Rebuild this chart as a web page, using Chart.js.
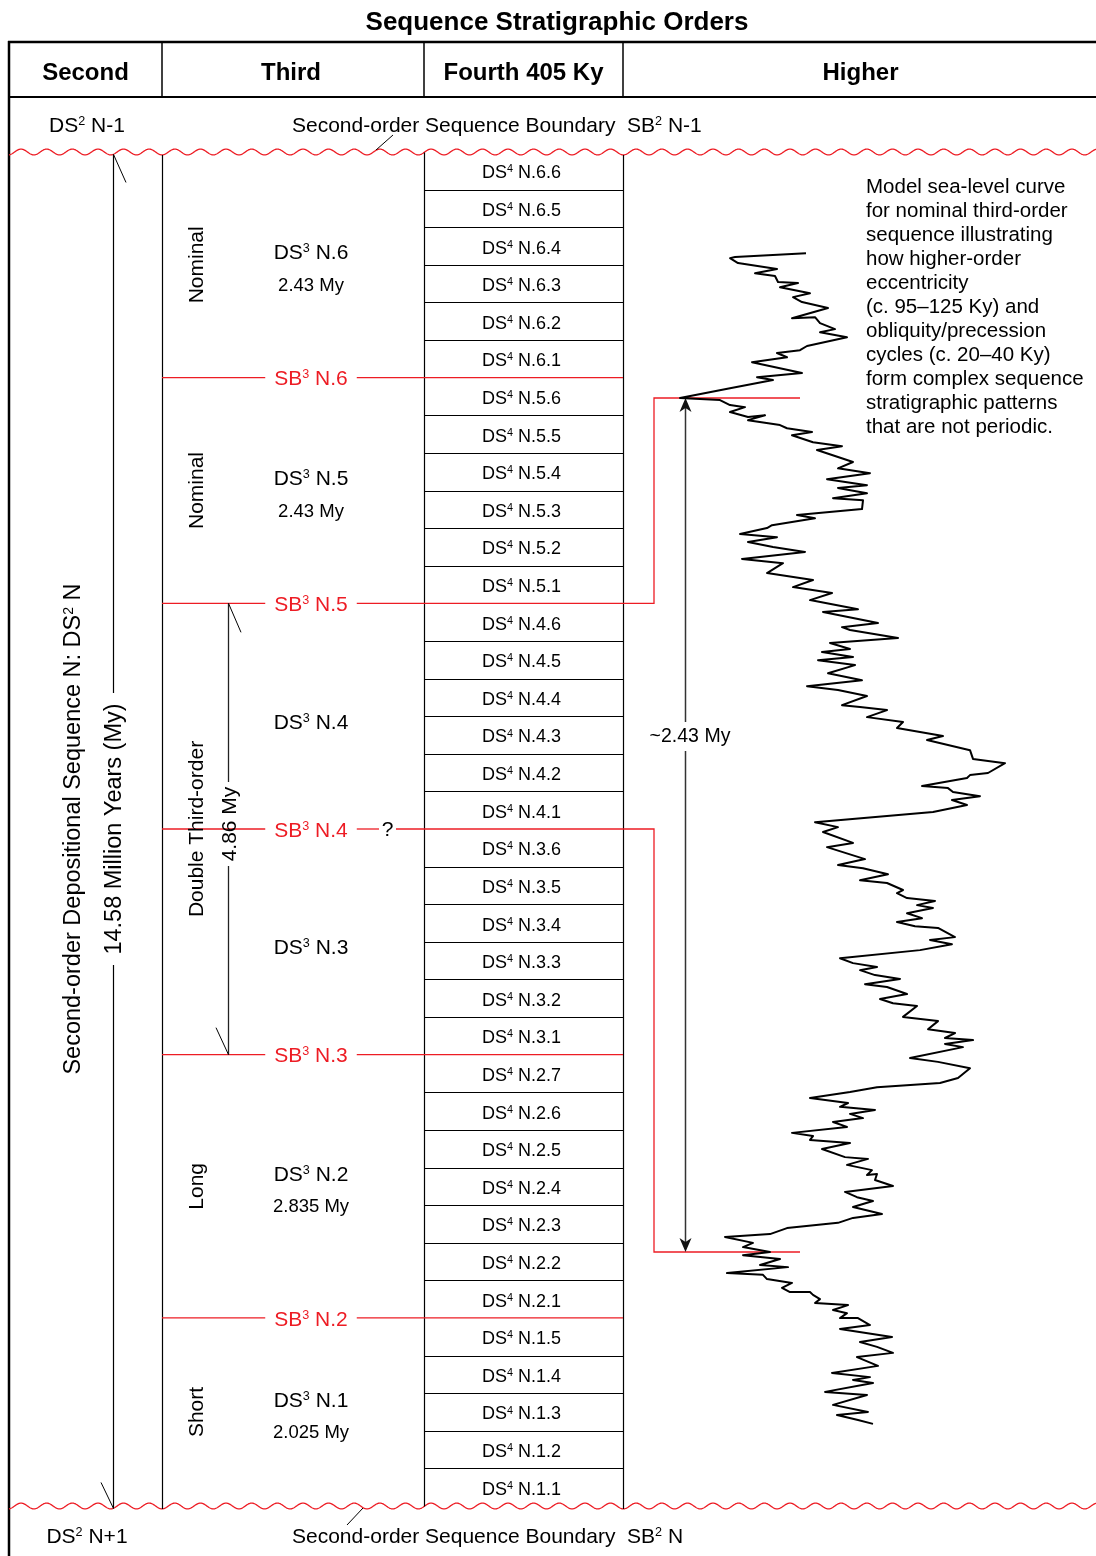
<!DOCTYPE html>
<html><head><meta charset="utf-8">
<script src="https://cdn.jsdelivr.net/npm/chart.js@4.4.1/dist/chart.umd.min.js"></script>
<style>html,body{margin:0;padding:0;background:#fff}#wrap{width:1096px;height:1556px;position:relative}</style>
</head><body><div id="wrap"><canvas id="c"></canvas></div>
<script>
// ---------------- DATA ----------------
const thirdOrderNames = ['N.1', 'N.2', 'N.3', 'N.4', 'N.5', 'N.6'];
const thirdOrderDurationsMy = [2.025, 2.835, 2.43, 2.43, 2.43, 2.43];
const durationLabels = ['2.025 My', '2.835 My', '', '', '2.43 My', '2.43 My'];
const fourthOrderCounts = [5, 7, 6, 6, 6, 6];
const typeLabels = ['Short', 'Long', 'Double Third-order', 'Nominal', 'Nominal'];
const typeSpans = [1, 1, 2, 1, 1];
const secondOrderDurationMy = 14.58;
const doubleSequenceLabel = '4.86 My';
const uncertainBoundary = 'N.4';
const linkedSequenceIndex = 3;            // DS3 N.4 linked to the model curve
const modelSequenceKy = 2430;             // ~2.43 My model sequence
const noteLines = ['Model sea-level curve', 'for nominal third-order', 'sequence illustrating',
  'how higher-order', 'eccentricity', '(c. 95\u2013125 Ky) and', 'obliquity/precession',
  'cycles (c. 20\u201340 Ky)', 'form complex sequence', 'stratigraphic patterns', 'that are not periodic.'];

// model curve: time (ky above lower sequence boundary) and relative sea level (arbitrary units)
const curveTimeKy = [2842,2831,2828,2814,2797,2785,2777,2760,2757,2745,2728,2717,2703,2686,2657,2660,2643,2626,2617,2603,2578,2566,2558,2546,2532,2501,2489,2481,2458,2430,
2424,2410,2404,2390,2376,2381,2367,2353,2344,2333,2324,2304,2293,2282,2248,2230,2216,2199,2182,2174,2159,2145,2139,2114,2097,2088,2068,2060,2043,2034,2020,2006,1992,1972,1960,1932,1912,1892,1875,1855,1829,1821,1790,1778,1770,1747,1733,1716,1707,1693,1684,1670,1647,1627,1610,1599,1582,1556,1551,1542,1522,1508,1491,1468,1457,1428,1403,1391,1363,1357,1349,1326,1320,1309,1297,1286,1272,1252,1223,
1209,1195,1164,1152,1118,1101,1092,1075,1058,1050,1030,1021,1007,999,987,979,964,950,939,927,922,896,888,876,859,836,822,811,802,788,777,762,754,734,720,708,700,669,657,634,623,609,603,592,583,552,541,523,495,481,469,455,438,424,413,404,393,381,370,356,339,330,319,310,293,270,265,248,233,219,222,205,188,171,156,145,128,108,97,83,68,51,43,26,14,0,-9,-20,-37,-43,-60,-65,-77,-88,-102,-114,-114,-122,-134,-145,-151,-165,-174,-188,-188,-208,-219,-242,-256,-270,-287,-299,-324,-344,-356,-364,-373,-398,-407,-435,-455,-464,-478,-489];
const curveSeaLevel = [32.5,14.75,13.5,15.5,25.25,19.75,24.75,25.5,30.5,26,33.5,29.25,31.5,38,29,34.75,36,39.75,36,42.75,32.75,31,25.25,27.75,19,31.5,20.25,24.25,13.5,1,
11,13.5,17.25,13.5,18,22.25,18,26,27.75,34,29,34.25,41.5,35.25,44.25,40.5,48.5,37.75,47.75,40.5,47.75,39.25,46.75,46.5,30.25,34.75,24,22.75,16,25.25,18,24.25,32.25,16.5,26.75,22.75,34.25,29.25,39,33.5,45.5,36.75,50.5,41.5,43.5,55.5,38.5,43.5,36.5,44.25,35.5,44.75,38,46.5,32.75,40.5,47.75,41.5,46,52.75,47.75,56.75,55.25,66.75,62.75,73.5,74.25,82.25,78,73.5,72.75,61.5,68,69.25,76,69,72.75,64.25,34.75,
40.5,36.75,44.25,37.75,47.25,40.5,46.75,53,46,52.75,56.75,55.25,57.75,64.75,60.25,64.25,57.75,61.5,55.25,59.75,65.5,69.75,63.5,69,61,41,44.25,50.25,46,49.75,56,47.25,52.75,57.75,51,54.25,60.25,56.75,65.5,63,69.75,67.25,74.25,67.25,71.75,58.5,65.5,73.5,70.5,66,50.25,43.5,33.5,43,41,49.75,43.5,46.75,39.25,42.75,29,34.25,33.5,43.5,36.5,42.25,48,42.75,49,47.75,50.25,49.75,54.25,42.25,45.25,49.25,44.25,51.5,44.25,40.5,27.75,23.5,12.25,19.25,16.75,23.5,16.75,26,21,28,12.75,21.75,22.75,29,26.5,28.5,33.5,34.25,36,34.75,43,39.25,42.75,41,45.5,48.5,41,54,46,50.25,54.25,45.25,50.5,39,48.5,44.25,49.25,37.25,47.75,39.25,48,40.25,45.5,49.25];

// ---------------- DRAWING ----------------
const FONT = '"Liberation Sans", Arial, Helvetica, sans-serif';
const RED = '#ed1c24';
function fnt(size, bold) { return (bold ? 'bold ' : '') + size + 'px ' + FONT; }
function parts(str) {
  const out = []; let buf = '';
  for (let i = 0; i < str.length; i++) {
    if (str[i] === '^') { if (buf) out.push({ t: buf }); buf = ''; out.push({ t: str[i + 1], sup: true }); i++; }
    else buf += str[i];
  }
  if (buf) out.push({ t: buf });
  return out;
}
function drawRich(ctx, str, x, y, size, align, color, bold) {
  const ps = parts(str);
  let w = 0;
  for (const p of ps) { ctx.font = fnt(p.sup ? size * 0.6 : size, bold); p.w = ctx.measureText(p.t).width; w += p.w; }
  let cx = align === 'center' ? x - w / 2 : (align === 'right' ? x - w : x);
  const left = cx;
  const base = y + size * 0.36;
  ctx.fillStyle = color || '#000'; ctx.textAlign = 'left'; ctx.textBaseline = 'alphabetic';
  for (const p of ps) {
    ctx.font = fnt(p.sup ? size * 0.6 : size, bold);
    ctx.fillText(p.t, cx, p.sup ? base - size * 0.33 : base);
    cx += p.w;
  }
  return { left: left, right: cx };
}
function line(ctx, x1, y1, x2, y2, color, w) {
  ctx.beginPath(); ctx.moveTo(x1, y1); ctx.lineTo(x2, y2);
  ctx.strokeStyle = color; ctx.lineWidth = w; ctx.stroke();
}
function poly(ctx, pts, color, w) {
  ctx.beginPath(); ctx.moveTo(pts[0][0], pts[0][1]);
  for (let i = 1; i < pts.length; i++) ctx.lineTo(pts[i][0], pts[i][1]);
  ctx.strokeStyle = color; ctx.lineWidth = w; ctx.lineJoin = 'miter'; ctx.stroke();
}
function waveY(x, yc) { return yc + 2.9 * Math.cos(2 * Math.PI * (x - 162) / 25.63); }
function drawWave(ctx, yc, x0, x1) {
  ctx.beginPath();
  for (let x = x0; x <= x1; x += 0.5) { const y = waveY(x, yc); if (x === x0) ctx.moveTo(x, y); else ctx.lineTo(x, y); }
  ctx.strokeStyle = RED; ctx.lineWidth = 1.3; ctx.stroke();
}
function rotText(ctx, str, x, y, size, color) {
  ctx.save(); ctx.translate(x, y); ctx.rotate(-Math.PI / 2);
  drawRich(ctx, str, 0, 0, size, 'center', color);
  ctx.restore();
}
function arrowHead(ctx, x, y, dir, color) {
  ctx.beginPath(); ctx.moveTo(x, y); ctx.lineTo(x - 6, y + dir * 14); ctx.lineTo(x, y + dir * 10); ctx.lineTo(x + 6, y + dir * 14); ctx.closePath();
  ctx.fillStyle = color; ctx.fill();
}

const stratPlugin = {
  id: 'strat',
  beforeDraw(chart) { const c = chart.ctx; c.save(); c.fillStyle = '#fff'; c.fillRect(0, 0, chart.width, chart.height); c.restore(); },
  beforeDatasetsDraw(chart) {
    const ctx = chart.ctx; ctx.save();
    const yS = chart.scales.y, y2S = chart.scales.y2;
    const P = v => yS.getPixelForValue(v);
    const Q = v => y2S.getPixelForValue(v);
    const X0 = 9, X1 = 162, X2 = 424, X3 = 623, XR = chart.width;
    const yTop = P(secondOrderDurationMy), yBot = P(0);
    const cum = [0]; thirdOrderDurationsMy.forEach(d => cum.push(cum[cum.length - 1] + d));

    // title & header
    ctx.fillStyle = '#000'; ctx.textAlign = 'center'; ctx.textBaseline = 'middle';
    ctx.font = fnt(26, true); ctx.fillText('Sequence Stratigraphic Orders', 557, 23);
    line(ctx, X0 - 1, 42, XR, 42, '#000', 2.5);
    line(ctx, X0, 97, XR, 97, '#000', 2);
    line(ctx, X0, 41, X0, chart.height, '#000', 2.5);
    [X1, X2, X3].forEach(x => line(ctx, x, 42, x, 97, '#000', 1.5));
    ctx.font = fnt(24, true); ctx.fillStyle = '#000';
    ctx.fillText('Second', (X0 + X1) / 2, 73.5);
    ctx.fillText('Third', (X1 + X2) / 2 - 2, 73.5);
    ctx.fillText('Fourth 405 Ky', (X2 + X3) / 2, 73.5);
    ctx.fillText('Higher', (X3 + XR) / 2 + 1, 73.5);

    // second-order boundaries
    drawRich(ctx, 'DS^2 N-1', 87, 124, 21, 'center');
    drawRich(ctx, 'Second-order Sequence Boundary  SB^2 N-1', 292, 124, 21, 'left');
    drawRich(ctx, 'DS^2 N+1', 87, 1535, 21, 'center');
    drawRich(ctx, 'Second-order Sequence Boundary  SB^2 N', 292, 1535, 21, 'left');
    drawWave(ctx, yTop, X0, XR);
    drawWave(ctx, yBot, X0, XR);
    line(ctx, 376, yTop - 2, 393, yTop - 17, '#000', 1);
    line(ctx, 363, yBot + 2, 347, yBot + 19, '#000', 1);

    // column verticals
    [X1, X2, X3].forEach(x => line(ctx, x + 0.5, waveY(x, yTop), x + 0.5, waveY(x, yBot), '#000', 1.2));

    // fourth-order rows
    for (let i = 0; i < thirdOrderDurationsMy.length; i++) {
      const n = fourthOrderCounts[i], d = thirdOrderDurationsMy[i] / n;
      for (let j = 0; j < n; j++) {
        const a = cum[i] + j * d, b = a + d;
        if (j > 0) { const yy = Math.round(P(a)) + 0.5; line(ctx, X2, yy, X3, yy, '#000', 1); }
        drawRich(ctx, 'DS^4 ' + thirdOrderNames[i] + '.' + (j + 1), (X2 + X3) / 2 - 2, (P(a) + P(b)) / 2 + 1, 18, 'center');
      }
    }

    // red connectors to the model curve
    const yUpSB = P(cum[linkedSequenceIndex + 1]), yLoSB = P(cum[linkedSequenceIndex]);
    poly(ctx, [[X3, yUpSB], [654, yUpSB], [654, Q(modelSequenceKy)], [800, Q(modelSequenceKy)]], RED, 1.3);
    poly(ctx, [[X3, yLoSB], [654, yLoSB], [654, Q(0)], [800, Q(0)]], RED, 1.3);

    // third-order boundaries
    for (let k = 1; k < thirdOrderNames.length; k++) {
      const yy = P(cum[k]);
      const name = thirdOrderNames[k];
      const r = drawRich(ctx, 'SB^3 ' + name, 311, yy, 21, 'center', RED);
      line(ctx, X1, yy, r.left - 9, yy, RED, 1.3);
      if (name === uncertainBoundary) {
        line(ctx, r.right + 9, yy, 379, yy, RED, 1.3);
        ctx.font = fnt(21); ctx.fillStyle = '#000'; ctx.textAlign = 'center'; ctx.textBaseline = 'middle';
        ctx.fillText('?', 387.5, yy + 1);
        line(ctx, 396, yy, X3, yy, RED, 1.3);
      } else {
        line(ctx, r.right + 9, yy, X3, yy, RED, 1.3);
      }
    }

    // third-order labels
    for (let i = 0; i < thirdOrderNames.length; i++) {
      const c = (P(cum[i]) + P(cum[i + 1])) / 2;
      if (durationLabels[i]) {
        drawRich(ctx, 'DS^3 ' + thirdOrderNames[i], 311, c - 13, 21, 'center');
        ctx.font = fnt(18.5); ctx.fillStyle = '#000'; ctx.textAlign = 'center'; ctx.textBaseline = 'middle';
        ctx.fillText(durationLabels[i], 311, c + 21);
      } else {
        drawRich(ctx, 'DS^3 ' + thirdOrderNames[i], 311, c + 5, 21, 'center');
      }
    }
    let s = 0;
    for (let g = 0; g < typeLabels.length; g++) {
      const c = (P(cum[s]) + P(cum[s + typeSpans[g]])) / 2;
      rotText(ctx, typeLabels[g], 195, c, 21);
      s += typeSpans[g];
    }

    // double third-order span
    const yd1 = P(cum[4]), yd0 = P(cum[2]), ydc = (yd1 + yd0) / 2 - 5;
    line(ctx, 228.5, yd1, 228.5, ydc - 42, '#222', 1.3);
    line(ctx, 228.5, ydc + 42, 228.5, yd0, '#222', 1.3);
    line(ctx, 228.5, yd1, 241, yd1 + 29, '#000', 1);
    line(ctx, 228.5, yd0, 216, yd0 - 27, '#000', 1);
    rotText(ctx, doubleSequenceLabel, 228, ydc, 21);

    // second-order span
    const ys1 = waveY(113, yTop), ys0 = waveY(113, yBot), ysc = (yTop + yBot) / 2;
    line(ctx, 113.5, ys1, 113.5, ysc - 136, '#000', 1.2);
    line(ctx, 113.5, ysc + 136, 113.5, ys0, '#000', 1.2);
    line(ctx, 113.5, ys1, 126, ys1 + 28, '#000', 1);
    line(ctx, 113.5, ys0, 101, ys0 - 26, '#000', 1);
    rotText(ctx, secondOrderDurationMy.toFixed(2) + ' Million Years (My)', 113, ysc, 23.5);
    rotText(ctx, 'Second-order Depositional Sequence N: DS^2 N', 72, ysc, 23.5);

    // model sequence arrow
    const ya = Q(modelSequenceKy), yb = Q(0), yl = 736;
    line(ctx, 685.5, ya + 8, 685.5, yl - 14, '#333', 1.5);
    line(ctx, 685.5, yl + 15, 685.5, yb - 8, '#333', 1.5);
    arrowHead(ctx, 685.5, ya, 1, '#111');
    arrowHead(ctx, 685.5, yb, -1, '#111');
    ctx.font = fnt(19.5); ctx.fillStyle = '#000'; ctx.textAlign = 'center'; ctx.textBaseline = 'middle';
    ctx.fillText('~' + (modelSequenceKy / 1000).toFixed(2) + ' My', 690, yl + 1);

    // note
    ctx.font = fnt(20.5); ctx.textAlign = 'left';
    noteLines.forEach((t, i) => ctx.fillText(t, 866, 187 + i * 24));
    ctx.restore();
  }
};

new Chart(document.getElementById('c'), {
  type: 'scatter',
  data: {
    datasets: [{
      data: curveTimeKy.map((t, i) => ({ x: curveSeaLevel[i], y: t })),
      showLine: true, borderColor: '#000', borderWidth: 2, pointRadius: 0, tension: 0,
      borderJoinStyle: 'round', xAxisID: 'x', yAxisID: 'y2'
    }]
  },
  options: {
    responsive: true, maintainAspectRatio: false, animation: false, devicePixelRatio: 1,
    layout: { padding: { left: 676, right: 0, top: 152, bottom: 50 } },
    plugins: { legend: { display: false }, tooltip: { enabled: false } },
    events: [],
    scales: {
      x: { type: 'linear', min: 0, max: 105, display: false },
      y: { type: 'linear', min: 0, max: secondOrderDurationMy, display: false },
      y2: { type: 'linear', min: -722.7, max: 3130, display: false }
    }
  },
  plugins: [stratPlugin]
});
</script></body></html>
